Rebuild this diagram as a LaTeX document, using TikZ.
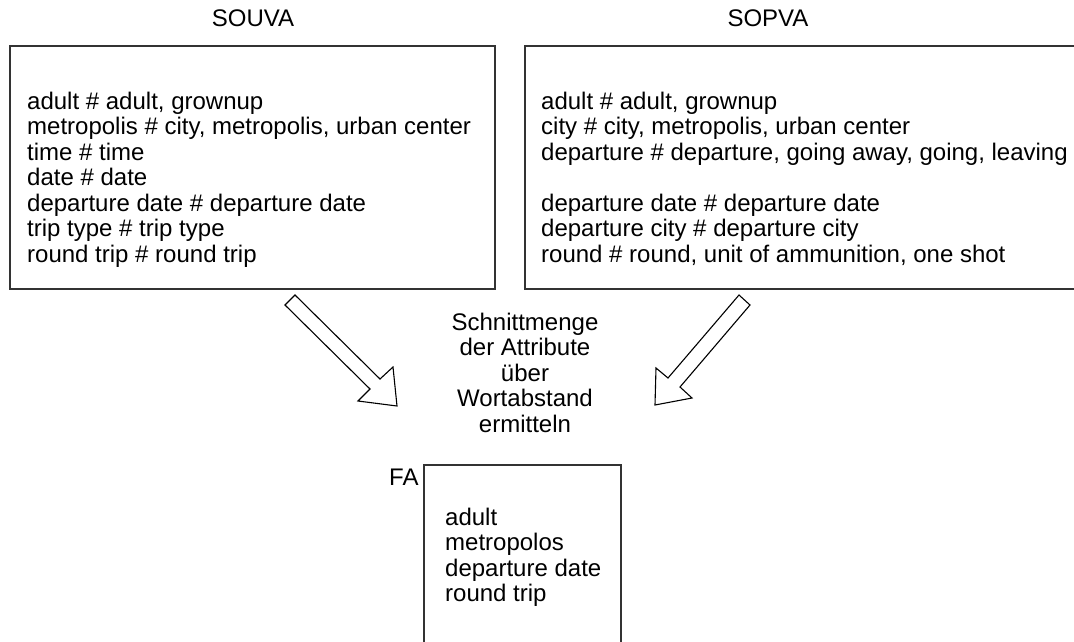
\documentclass[tikz,border=0pt]{standalone}
\usepackage{fontspec}
\setmainfont{Liberation Sans}
\begin{document}
\begin{tikzpicture}[x=1pt,y=-1pt,
  frame/.style={draw=black!80,line width=1.6pt},
  % multi-line nodes are placed by the baseline of their last line
  txt/.style={inner sep=0pt,anchor=base west,font=\fontsize{24}{25.5}\selectfont,align=left},
  ctxt/.style={inner sep=0pt,anchor=base,font=\fontsize{24}{25.5}\selectfont,align=center},
  blockarrow/.style={draw=black,line width=1.1pt,fill=white,line join=miter}]
\useasboundingbox (0,0) rectangle (1074,641);
\clip (0,0) rectangle (1074,641);

% titles
\node[ctxt] (souvat) at (253,26.5) {SOUVA};
\node[ctxt] (sopvat) at (768,26.5) {SOPVA};

% left attribute box
\draw[frame] (10,46) rectangle (495,289);
\node[txt] (souva) at (27,262) {adult \# adult, grownup\\
metropolis \# city, metropolis, urban center\\
time \# time\\
date \# date\\
departure date \# departure date\\
trip type \# trip type\\
round trip \# round trip};

% right attribute box (runs past the right edge)
\draw[frame] (525,46) rectangle (1100,289);
\node[txt] (sopva) at (541,262) {adult \# adult, grownup\\
city \# city, metropolis, urban center\\
departure \# departure, going away, going, leaving\\
\strut\\
departure date \# departure date\\
departure city \# departure city\\
round \# round, unit of ammunition, one shot};

% explanation in the middle
\node[ctxt] (mid) at (525,432) {Schnittmenge\\der Attribute\\über\\Wortabstand\\ermitteln};

% result box (runs past the bottom edge)
\node[txt] (fal) at (389,485) {FA};
\draw[frame] (424,465) rectangle (621,660);
\node[txt] (fa) at (445,601.5) {adult\\metropolos\\departure date\\round trip};

% block arrows
\draw[blockarrow] (295,295) -- (380,379) -- (393,367) -- (397,406) -- (358,401) -- (370,389) -- (285,305) -- cycle;
\draw[blockarrow] (739,295) -- (750,305) -- (680,387) -- (692,398) -- (655,405) -- (656,368) -- (668,378) -- cycle;
\end{tikzpicture}
\end{document}
